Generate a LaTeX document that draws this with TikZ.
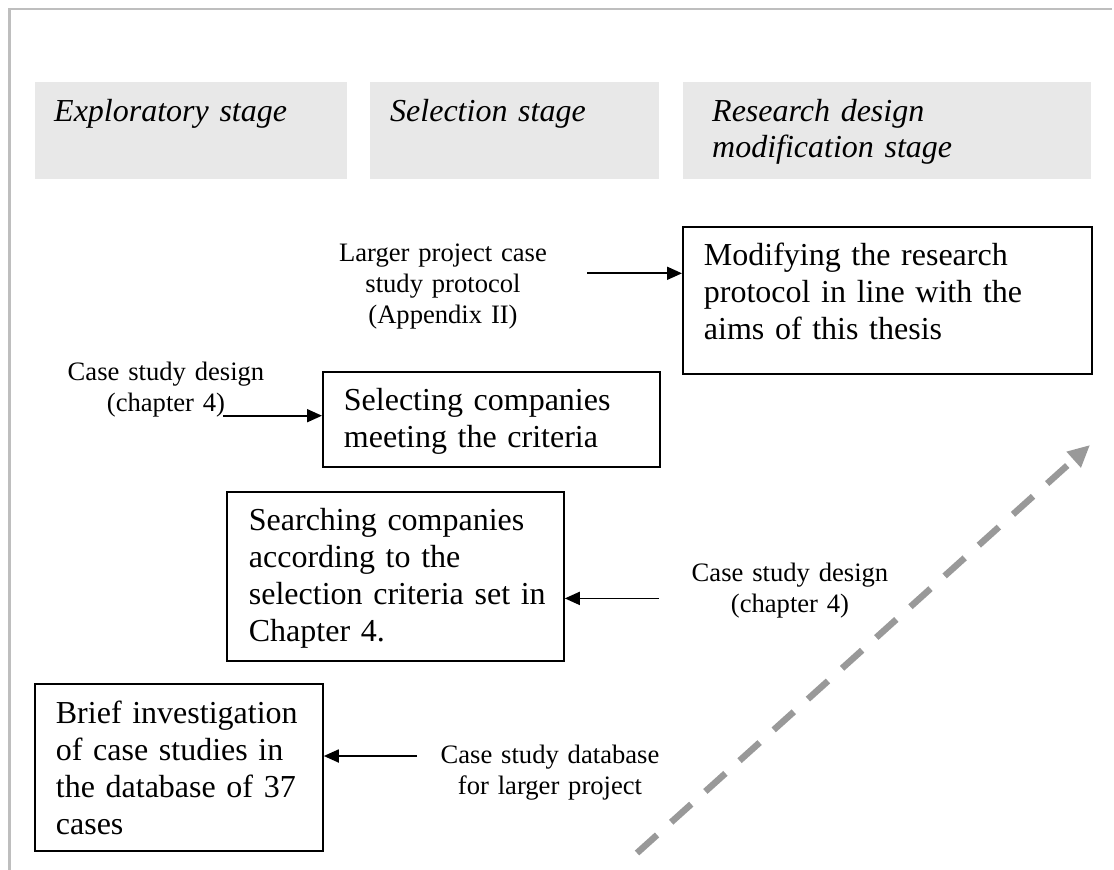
\documentclass[tikz,border=0pt]{standalone}
\usepackage{fontspec}
\setmainfont{Liberation Serif}
\usetikzlibrary{arrows.meta}
\definecolor{hdrfill}{HTML}{E8E8E8}
\definecolor{framegray}{HTML}{BEBEBE}
\definecolor{dashgray}{HTML}{999999}
\newcommand\bigfnt{\fontsize{32}{36.7}\selectfont}
\newcommand\smallfnt{\fontsize{26.6}{31}\selectfont}
\begin{document}
\begin{tikzpicture}[x=1pt,y=-1pt,
  textbox/.style={draw, line width=1.8pt, anchor=north west, inner ysep=0pt, align=left, font=\bigfnt},
  stagebox/.style={fill=hdrfill, anchor=north west, inner ysep=0pt, align=left, font=\bigfnt\itshape},
  lbl/.style={anchor=base, inner sep=0pt, text width=280pt, align=center, font=\smallfnt},
  arr/.style={line width=1.8pt, -{Triangle[length=15pt,width=13pt]}},
  trend/.style={line width=6.5pt, dashgray, dash pattern=on 27pt off 19pt, -{Triangle[length=22pt,width=20pt]}}
]
\useasboundingbox (0,0) rectangle (1114,870);
\draw[framegray, line width=2.2pt] (9.5,870) -- (9.5,9) -- (1112,9);

% stage headers
\node[stagebox, inner xsep=19pt, text width=274pt] (s1) at (35,82)
  {\rule{0pt}{39pt}\mbox{Exploratory stage}\rule[-58pt]{0pt}{58pt}};
\node[stagebox, inner xsep=20pt, text width=249pt] (s2) at (370,82)
  {\rule{0pt}{39pt}\mbox{Selection stage}\rule[-58pt]{0pt}{58pt}};
\node[stagebox, inner xsep=29pt, text width=350pt] (s3) at (683,82)
  {\rule{0pt}{39pt}\mbox{Research design}\\\mbox{modification stage}\rule[-21.3pt]{0pt}{21.3pt}};

% process boxes
\node[textbox, inner xsep=21pt, text width=367pt] (mod) at (682,226)
  {\rule{0pt}{39pt}\mbox{Modifying the research}\\\mbox{protocol in line with the}\\\mbox{aims of this thesis}\rule[-34.6pt]{0pt}{34.6pt}};
\node[textbox, inner xsep=21pt, text width=295pt] (sel) at (322,371)
  {\rule{0pt}{39pt}\mbox{Selecting companies}\\\mbox{meeting the criteria}\rule[-19.3pt]{0pt}{19.3pt}};
\node[textbox, inner xsep=22pt, text width=293pt] (sea) at (226,491)
  {\rule{0pt}{39pt}\mbox{Searching companies}\\\mbox{according to the}\\\mbox{selection criteria set in}\\\mbox{Chapter 4.}\rule[-19.9pt]{0pt}{19.9pt}};
\node[textbox, inner xsep=21pt, text width=246pt] (bri) at (34,683)
  {\rule{0pt}{40pt}\mbox{Brief investigation}\\\mbox{of case studies in}\\\mbox{the database of 37}\\\mbox{cases}\rule[-16.9pt]{0pt}{16.9pt}};

% input labels
\node[lbl] (lpr) at (443,261) {Larger project case\\study protocol\\(Appendix II)};
\node[lbl] (csd1) at (166,380) {Case study design\\(chapter 4)};
\node[lbl] (csd2) at (790,581) {Case study design\\(chapter 4)};
\node[lbl] (csdb) at (550,763) {Case study database\\for larger project};

% connectors
\coordinate (a1) at (587,273.3);
\draw[arr] (a1) -- (a1 -| mod.west);
\coordinate (a2) at (223,415.7);
\draw[arr] (a2) -- (a2 -| sel.west);
\coordinate (a3) at (659,598.4);
\draw[arr] (a3) -- (a3 -| sea.east);
\coordinate (a4) at (417,756);
\draw[arr] (a4) -- (a4 -| bri.east);

% progression arrow
\coordinate (t0) at (637,853);
\coordinate (t1) at (1090,445);
\draw[trend] (t0) -- (t1);
\end{tikzpicture}
\end{document}
